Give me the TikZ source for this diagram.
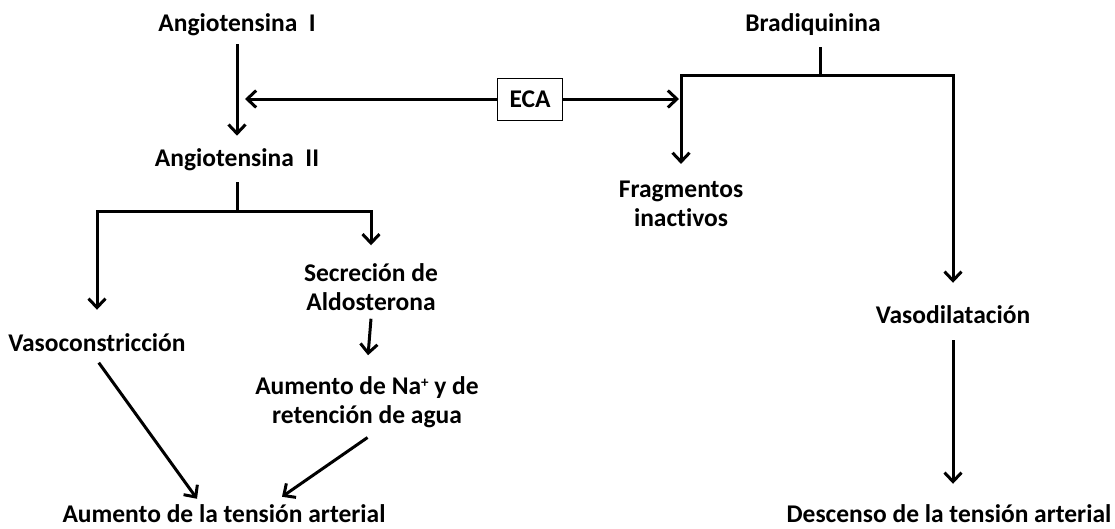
\documentclass[tikz,border=0pt]{standalone}
\usepackage{fontspec}
\setmainfont[Ligatures=NoCommon]{Carlito}
\usetikzlibrary{arrows.meta}

\tikzset{
	txt/.style={font=\fontsize{25.5}{29}\selectfont\bfseries, align=center, inner xsep=2pt, inner ysep=8pt},
	conn/.style={line width=3pt, line join=miter, -{Straight Barb[length=9pt,width=17pt]}},
	link/.style={line width=3pt},
	ecabox/.style={draw, line width=0.8pt, minimum width=65pt, minimum height=42pt, inner sep=0pt, font=\fontsize{25.5}{29}\selectfont\bfseries},
}

\begin{document}
\begin{tikzpicture}[x=1pt,y=1pt,yscale=-1]
	\useasboundingbox (0,0) rectangle (1115,528);
	
	% Text Node
	\node[txt] (angI) at (237,25) {Angiotensina~~I};
	% Text Node
	\node[txt] (angII) at (237,160) {Angiotensina~~II};
	% Text Node
	\node[ecabox] (eca) at (530,99) {ECA};
	% Text Node
	\node[txt] (brad) at (813,25) {Bradiquinina};
	% Text Node
	\node[txt] (frag) at (681,204) {Fragmentos\\inactivos};
	% Text Node
	\node[txt] (vasoc) at (97,343) {Vasoconstricción};
	% Text Node
	\node[txt] (secr) at (371,287) {Secreción de\\Aldosterona};
	% Text Node
	\node[txt] (na) at (367,402) {Aumento de Na\raisebox{7pt}{\fontsize{15}{15}\selectfont +} y de\\retención de agua};
	% Text Node
	\node[txt] (aum) at (224,514) {Aumento de la tensión arterial};
	% Text Node
	\node[txt] (vasod) at (953,315) {Vasodilatación};
	% Text Node
	\node[txt] (desc) at (949,514) {Descenso de la tensión arterial};
	
	% Junctions
	\coordinate (aJ) at (237,211);
	\coordinate (bJ) at (820,75);
	
	% Connection
	\draw[conn, shorten >=5pt] (angI.south) -- (angII.north);
	% Connection
	\draw[conn, shorten >=8pt] (eca.west) -- (eca.west -| angI.south);
	% Connection
	\draw[conn, shorten >=2pt] (eca.east) -- (eca.east -| frag.north);
	% Connection
	\draw[link, shorten <=3pt] (angII.south) -- (aJ);
	\draw[conn, shorten >=16pt] (aJ) -| (vasoc.north);
	\draw[conn, shorten >=10pt] (aJ) -| (secr.north);
	% Connection
	\draw[link, shorten <=3pt] (bJ |- brad.south) -- (bJ);
	\draw[conn, shorten >=9pt] (bJ) -| (frag.north);
	\draw[conn, shorten >=15pt] (bJ) -| (vasod.north);
	% Connection
	\draw[conn, shorten >=13pt] (secr.south) -- (na.north);
	% Connection
	\draw[conn, shorten <=3pt] (vasoc.south) -- ([xshift=-27pt,yshift=2pt]aum.north);
	% Connection
	\draw[conn, shorten <=3pt] ([xshift=3pt]na.south) -- ([xshift=58pt]aum.north);
	% Connection
	\draw[conn, shorten <=8pt, shorten >=13pt] (vasod.south) -- (vasod.south |- desc.north);
\end{tikzpicture}
\end{document}
